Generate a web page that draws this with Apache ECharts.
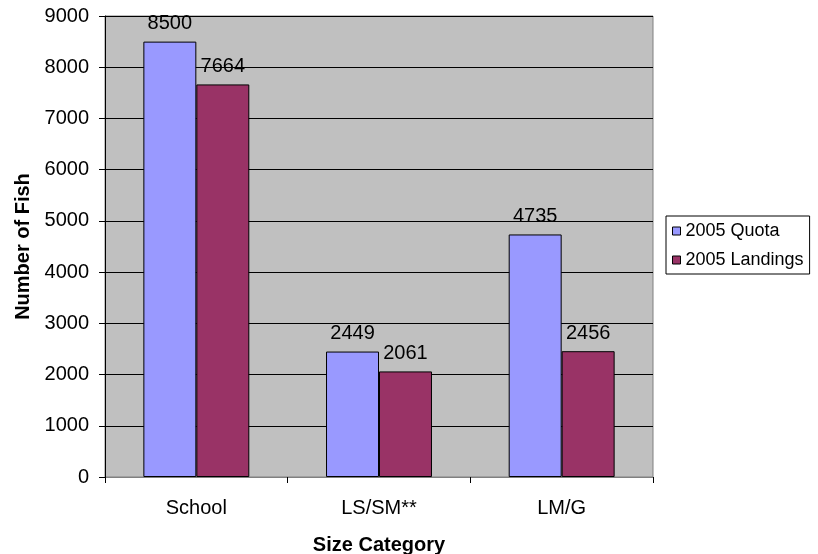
<!DOCTYPE html>
<html>
<head>
<meta charset="utf-8">
<script src="https://cdn.jsdelivr.net/npm/echarts@6/dist/echarts.min.js"></script>
<style>
  html, body { margin: 0; padding: 0; background: #fff; }
  #chart { width: 818px; height: 554px; }
</style>
</head>
<body>
<div id="chart"></div>
<script>
// Size categories and fish counts
const categories = ['School', 'LS/SM**', 'LM/G'];
const quota2005 = [8500, 2449, 4735];
const landings2005 = [7664, 2061, 2456];
const seriesNames = ['2005 Quota', '2005 Landings'];

const FONT = "'Liberation Sans', Arial, sans-serif";

const chart = echarts.init(document.getElementById('chart'), null, { renderer: 'canvas' });

const labelStyle = {
  show: true,
  position: 'top',
  distance: 8,
  color: '#000',
  fontSize: 20,
  fontFamily: FONT
};

chart.setOption({
  animation: false,
  backgroundColor: '#ffffff',
  textStyle: { fontFamily: FONT, color: '#000' },
  grid: {
    left: 105, right: 165, top: 16, bottom: 77,
    outerBoundsMode: 'none',
    containLabel: false,
    show: true,
    backgroundColor: '#C0C0C0',
    borderColor: '#808080',
    borderWidth: 1
  },
  legend: {
    orient: 'vertical',
    left: 666,
    top: 216,
    padding: [6, 6, 5, 6],
    itemGap: 11,
    itemWidth: 8,
    itemHeight: 8,
    backgroundColor: '#ffffff',
    borderColor: '#000',
    borderWidth: 1,
    borderRadius: 0,
    icon: 'rect',
    itemStyle: { borderColor: '#000', borderWidth: 1 },
    textStyle: { fontSize: 18, color: '#000', fontFamily: FONT },
    data: seriesNames
  },
  xAxis: {
    type: 'category',
    data: categories,
    name: 'Size Category',
    nameLocation: 'middle',
    nameGap: 58,
    nameTextStyle: { fontSize: 20, fontWeight: 'bold', color: '#000', fontFamily: FONT },
    axisLine: { show: true, lineStyle: { color: '#808080', width: 1 } },
    axisTick: { show: true, length: 6, alignWithLabel: false, lineStyle: { color: '#000' } },
    axisLabel: { margin: 21, fontSize: 20, color: '#000', fontFamily: FONT },
    splitLine: { show: false }
  },
  yAxis: {
    type: 'value',
    min: 0,
    max: 9000,
    interval: 1000,
    name: 'Number of Fish',
    nameLocation: 'middle',
    nameGap: 59,
    nameTextStyle: { fontSize: 20, fontWeight: 'bold', color: '#000', fontFamily: FONT },
    axisLine: { show: true, lineStyle: { color: '#000', width: 1 } },
    axisTick: { show: true, length: 6, lineStyle: { color: '#000' } },
    axisLabel: {
      margin: 16, fontSize: 20, color: '#000', fontFamily: FONT,
      formatter: function (v) { return String(v); }
    },
    splitLine: { show: true, lineStyle: { color: '#000', width: 1 } }
  },
  series: [
    {
      name: seriesNames[0],
      type: 'bar',
      data: quota2005,
      barGap: '0%',
      barCategoryGap: '42%',
      itemStyle: { color: '#9999FF', borderColor: '#000', borderWidth: 1 },
      label: labelStyle
    },
    {
      name: seriesNames[1],
      type: 'bar',
      data: landings2005,
      barGap: '0%',
      barCategoryGap: '42%',
      itemStyle: { color: '#993366', borderColor: '#000', borderWidth: 1 },
      label: labelStyle
    }
  ]
});
</script>
</body>
</html>
